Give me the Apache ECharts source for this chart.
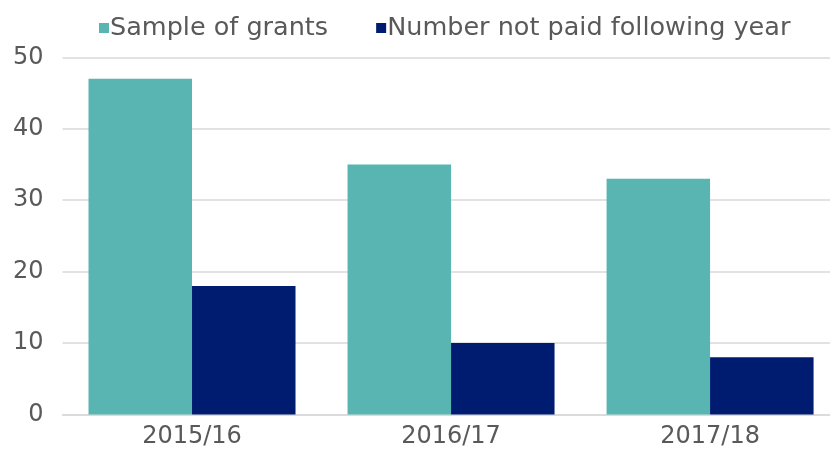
<!DOCTYPE html>
<html><head><meta charset="utf-8">
<script src="https://cdn.jsdelivr.net/npm/echarts@6/dist/echarts.min.js"></script>
<style>html,body{margin:0;padding:0;background:#fff}#c{width:830px;height:450px}</style>
</head><body><div id="c"></div>
<script>
const categories = ['2015/16', '2016/17', '2017/18'];
const sampleOfGrants = [47, 35, 33];
const notPaidFollowingYear = [18, 10, 8];
const seriesNames = ['Sample of grants', 'Number not paid following year'];
const yTicks = { min: 0, max: 50, interval: 10 };

const chart = echarts.init(document.getElementById('c'), null, { renderer: 'canvas' });
const FONT = 'DejaVu Sans';
// category index positions on a numeric x scale (the plot area runs past the right edge of the image)
const catIdx = categories.map((c, i) => i);
chart.setOption({
  animation: false,
  textStyle: { fontFamily: FONT, color: '#595959' },
  legend: {
    left: 94, top: 10,
    itemWidth: 10, itemHeight: 10, itemGap: 48,
    icon: 'rect',
    textStyle: { fontFamily: FONT, fontSize: 25.5, color: '#595959', padding: [0, 0, 0, -4] },
    data: seriesNames
  },
  grid: { left: 62.5, right: 0, top: 57.3, bottom: 35.5, containLabel: false },
  xAxis: {
    type: 'value', min: -0.5, max: 2.463,
    axisLine: { show: true, onZero: false, lineStyle: { color: '#D9D9D9', width: 1.5 } },
    axisTick: { show: false },
    splitLine: { show: false },
    axisLabel: { fontFamily: FONT, fontSize: 24, color: '#595959', margin: 10,
      customValues: catIdx, formatter: v => categories[Math.round(v)] }
  },
  yAxis: {
    type: 'value', min: yTicks.min, max: yTicks.max, interval: yTicks.interval,
    axisLine: { show: false }, axisTick: { show: false },
    axisLabel: { fontFamily: FONT, fontSize: 24, color: '#595959', margin: 19 },
    splitLine: { lineStyle: { color: '#D9D9D9', width: 1.5 } }
  },
  series: [
    { name: seriesNames[0], type: 'bar', data: catIdx.map(i => [i, sampleOfGrants[i]]), barGap: '0%', barWidth: 103.5,
      itemStyle: { color: '#59B5B1' } },
    { name: seriesNames[1], type: 'bar', data: catIdx.map(i => [i, notPaidFollowingYear[i]]), barGap: '0%', barWidth: 103.5,
      itemStyle: { color: '#001C71' } }
  ]
});
</script></body></html>
